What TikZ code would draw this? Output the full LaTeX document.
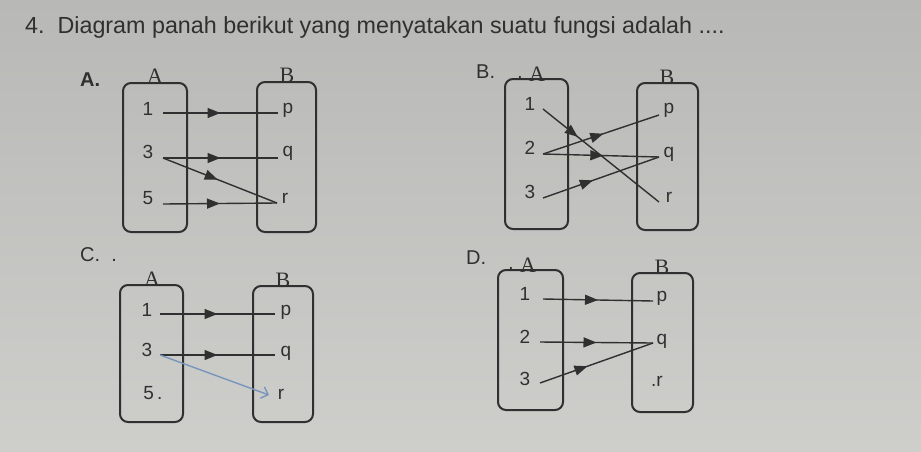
\documentclass[tikz,border=0pt]{standalone}
\usepackage{fontspec}
\setmainfont{Liberation Sans}
\newfontfamily\setfont{Liberation Serif}
\usetikzlibrary{arrows.meta,decorations.markings}
\definecolor{bgtop}{RGB}{184,184,182}
\definecolor{bgbot}{RGB}{206,206,203}
\definecolor{ink}{RGB}{48,48,48}
\definecolor{blu}{RGB}{120,150,188}
\begin{document}
\begin{tikzpicture}[x=1pt,y=-1pt,
  setbox/.style={draw=ink,line width=2pt,rounded corners=8pt,inner sep=0pt},
  el/.style={font=\fontsize{19}{19}\selectfont,text=ink,inner sep=0pt},
  setlab/.style={font=\setfont\fontsize{22}{22}\selectfont,text=ink,inner sep=0pt},
  optlab/.style={font=\fontsize{20}{20}\selectfont,text=ink,inner sep=0pt,anchor=west},
  arr/.style={draw=ink,line width=1.4pt,postaction={decorate},
    decoration={markings,mark=at position #1 with {\arrow{Triangle[length=13pt,width=10pt]}}}},
  arr/.default=0.5,
  barr/.style={draw=blu,line width=1.4pt,-{Straight Barb[length=6pt,width=12pt,line width=1.4pt]}}
]
\shade[top color=bgtop,bottom color=bgbot] (0,0) rectangle (921,451);
\useasboundingbox (0,0) rectangle (921,451);

% title
\node[anchor=west,font=\fontsize{23.3}{23.3}\selectfont,text=ink,inner sep=0pt] (title) at (25,27)
  {4.\ \ Diagram panah berikut yang menyatakan suatu fungsi adalah ....};

% ---------- A ----------
\node[optlab,font=\bfseries\fontsize{20}{20}\selectfont] (optA) at (80,80) {A.};
\node[setbox,minimum width=64pt,minimum height=149pt] (Abox) at (155,157.5) {};
\node[setbox,minimum width=59pt,minimum height=150pt] (Bbox) at (286.5,157) {};
\node[setlab] (Alab) at (155,76) {A};
\node[setlab] (Blab) at (287,75) {B};
\node[el] (a1) at (148,109) {1};
\node[el] (a3) at (148,152) {3};
\node[el] (a5) at (148,198) {5};
\node[el] (ap) at (288,110) {p};
\node[el] (aq) at (288,153) {q};
\node[el] (ar) at (285,198) {r};
\draw[arr] ([shift={(15,4)}]a1.center) -- ([shift={(-10,3)}]ap.center);
\draw[arr] ([shift={(15,6)}]a3.center) -- ([shift={(-10,5)}]aq.center);
\draw[arr=0.48] ([shift={(15,6)}]a3.center) -- ([shift={(-8,5)}]ar.center);
\draw[arr] ([shift={(15,6)}]a5.center) -- ([shift={(-8,5)}]ar.center);

% ---------- B ----------
\node[optlab] (optB) at (476,72) {B.};
\node[setbox,minimum width=63pt,minimum height=150pt] (Abox2) at (536.5,154) {};
\node[setbox,minimum width=61pt,minimum height=147pt] (Bbox2) at (667.5,156.5) {};
\node[setlab] (Alab2) at (537,74) {A};
\node[el] (dotB) at (520,77) {.};
\node[setlab] (Blab2) at (667,77) {B};
\node[el] (b1) at (530,104) {1};
\node[el] (b2) at (530,148) {2};
\node[el] (b3) at (530,192) {3};
\node[el] (bp) at (669,110) {p};
\node[el] (bq) at (669,154) {q};
\node[el] (br) at (669,197) {r};
\draw[arr=0.3] ([shift={(13,5)}]b1.center) -- ([shift={(-10,5)}]br.center);
\draw[arr=0.52] ([shift={(13,6)}]b2.center) -- ([shift={(-10,5)}]bp.center);
\draw[arr=0.52] ([shift={(13,6)}]b2.center) -- ([shift={(-10,3)}]bq.center);
\draw[arr=0.43] ([shift={(13,6)}]b3.center) -- ([shift={(-10,3)}]bq.center);

% ---------- C ----------
\node[optlab] (optC) at (80,255) {C.\ \ .};
\node[setbox,minimum width=63pt,minimum height=137pt] (Abox3) at (151.5,353.5) {};
\node[setbox,minimum width=60pt,minimum height=136pt] (Bbox3) at (283,354) {};
\node[setlab] (Alab3) at (152,279) {A};
\node[setlab] (Blab3) at (283,280) {B};
\node[el] (c1) at (147,310) {1};
\node[el] (c3) at (147,350) {3};
\node[el] (c5) at (153,393) {5\,.};
\node[el] (cp) at (286,312) {p};
\node[el] (cq) at (286,353) {q};
\node[el] (cr) at (281,394) {r};
\draw[arr] ([shift={(13,4)}]c1.center) -- ([shift={(-11,2)}]cp.center);
\draw[arr] ([shift={(13,5)}]c3.center) -- ([shift={(-11,2)}]cq.center);
\draw[barr] ([shift={(13,5)}]c3.center) -- ([shift={(-12,1)}]cr.center);

% ---------- D ----------
\node[optlab] (optD) at (466,258) {D.};
\node[setbox,minimum width=65pt,minimum height=140pt] (Abox4) at (530.5,340) {};
\node[setbox,minimum width=61pt,minimum height=139pt] (Bbox4) at (662.5,342.5) {};
\node[setlab] (Alab4) at (528,265) {A};
\node[el] (dotD) at (511,268) {.};
\node[setlab] (Blab4) at (662,267) {B};
\node[el] (d1) at (525,294) {1};
\node[el] (d2) at (525,337) {2};
\node[el] (d3) at (525,379) {3};
\node[el] (dp) at (662,298) {p};
\node[el] (dq) at (662,341) {q};
\node[el] (dr) at (657,381) {.r};
\draw[arr] ([shift={(18,5)}]d1.center) -- ([shift={(-9,3)}]dp.center);
\draw[arr] ([shift={(15,5)}]d2.center) -- ([shift={(-9,2)}]dq.center);
\draw[arr=0.42] ([shift={(15,4)}]d3.center) -- ([shift={(-9,2)}]dq.center);
\end{tikzpicture}
\end{document}
